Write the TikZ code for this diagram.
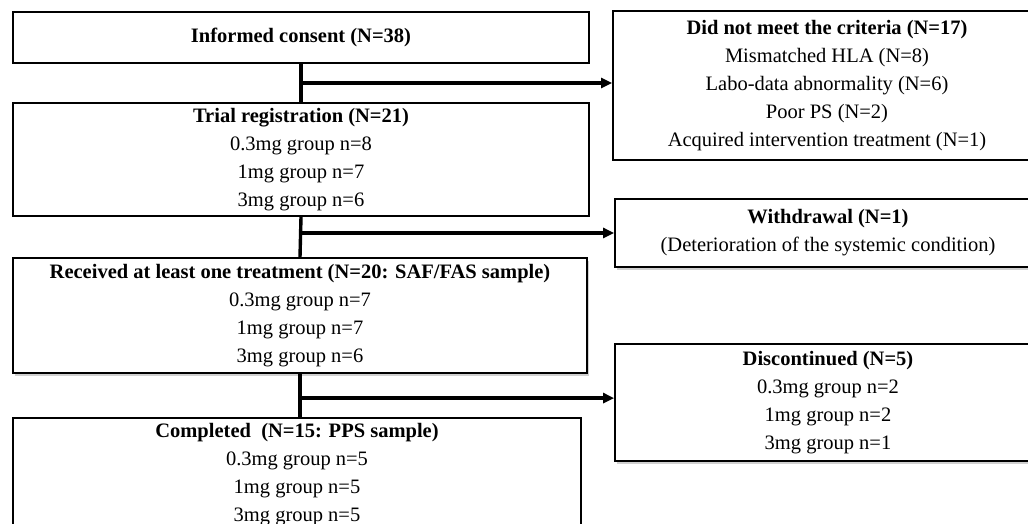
\documentclass[tikz,border=0pt]{standalone}
\usepackage{fontspec}
\setmainfont{Liberation Serif}
\usetikzlibrary{arrows.meta,shadows,calc}
\begin{document}
\begin{tikzpicture}[x=1pt,y=-1pt,
  box/.style={draw=black, line width=1.8pt, fill=white, inner sep=0pt, align=center,
    font=\fontsize{20.5}{28}\selectfont, anchor=center},
  shadowed/.style={drop shadow={shadow xshift=1.5pt, shadow yshift=-2.5pt, opacity=0.3, fill=black!60}},
  link/.style={line width=3.4pt},
  arrowlink/.style={line width=3.4pt, -{Triangle[length=11pt,width=10pt]}}]
\clip (0,0) rectangle (1028,524);
\fill[white] (0,0) rectangle (1028,524);

\node[box, minimum width=576pt, minimum height=51pt] (A) at (301,37.5)
  {\textbf{Informed consent (N=38)}};
\node[box, minimum width=576pt, minimum height=113pt] (B) at (301,159.5)
  {\textbf{Trial registration (N=21)}\\0.3mg group n=8\\1mg group n=7\\3mg group n=6};
\node[box, shadowed, minimum width=574pt, minimum height=115pt] (C) at (300,315.5)
  {\textbf{Received at least one treatment (N=20: SAF/FAS sample)}\\0.3mg group n=7\\1mg group n=7\\3mg group n=6};
\node[box, minimum width=568pt, minimum height=113pt] (D) at (297,474.5)
  {\textbf{Completed~ (N=15: PPS sample)}\\0.3mg group n=5\\1mg group n=5\\3mg group n=5};

\node[box, minimum width=428pt, minimum height=149pt] (E) at (827,85.5)
  {\textbf{Did not meet the criteria (N=17)}\\Mismatched HLA (N=8)\\Labo-data abnormality (N=6)\\Poor PS (N=2)\\Acquired intervention treatment (N=1)};
\node[box, shadowed, minimum width=426pt, minimum height=68pt] (F) at (828,233)
  {\textbf{Withdrawal (N=1)}\\(Deterioration of the systemic condition)};
\node[box, shadowed, minimum width=426pt, minimum height=117pt] (G) at (828,402.5)
  {\textbf{Discontinued (N=5)}\\0.3mg group n=2\\1mg group n=2\\3mg group n=1};

\coordinate (j1) at ($(A.south)!0.5!(B.north)$);
\coordinate (j2) at ($(B.south)!0.4!(C.north)$);
\coordinate (j3) at ($(C.south)!0.56!(C.south |- D.north)$);

\draw[link] (A.south) -- (B.north);
\draw[arrowlink] (j1) -- (j1 -| E.west);
\draw[link] (B.south) -- (C.north);
\draw[arrowlink] (j2) -- (j2 -| F.west);
\draw[link] (C.south) -- (C.south |- D.north);
\draw[arrowlink] (j3) -- (j3 -| G.west);
\end{tikzpicture}
\end{document}
